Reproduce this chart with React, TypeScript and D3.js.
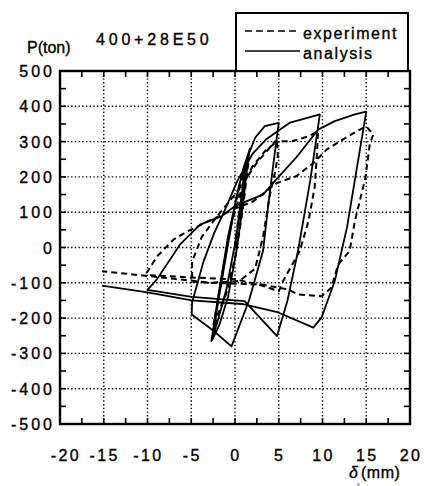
import React from "react";
import * as d3 from "d3";

// ---- data ----
const xTicks = [-20, -15, -10, -5, 0, 5, 10, 15, 20];
const yTicks = [-500, -400, -300, -200, -100, 0, 100, 200, 300, 400, 500];
const seriesNames = ["experiment", "analysis"];

const expX = [0, 0.5, 1.0, 1.5, 0.8, 0.0, -0.9, -1.8, -2.4, -1.6, -0.8, 0.2, 1.0, 1.6, 0.9, 0.1, -1.0, -2.0, -2.5, -1.5, -0.5, 0.8, 2.0, 3.5, 4.8, 4.9, 4.6, 4.0, 3.2, 2.3, 0.5, -2.7, -4.9, -4.9, -3.8, -2.0, 0.0, 2.5, 4.6, 6.5, 8.4, 9.5, 9.3, 9.1, 8.4, 7.4, 5.5, 5.0, 2.7, 0, -5, -9.9, -10.1, -8.9, -7, -5.5, -3, 0, 2.1, 4.8, 7, 9, 10.5, 12, 13.9, 15, 15.8, 15.4, 14.9, 13.7, 13.1, 11.8, 11, 9.9, 7.2, 6.1, 3, -2.7, -9.9, -15.2];
const expY = [0, 110, 200, 245, 100, -30, -120, -180, -215, -100, 20, 140, 210, 255, 110, -20, -130, -200, -225, -80, 60, 170, 230, 275, 300, 260, 216, 150, 30, -60, -95, -100, -97, -40, 30, 90, 150, 240, 301, 301, 315, 329, 240, 169, 75, -10, -95, -124, -105, -90, -85, -78, -72, -25, 23, 45, 75, 110, 131, 183, 202, 240, 278, 301, 329, 343, 320, 292, 197, 75, -10, -48, -114, -138, -133, -119, -105, -100, -81, -67];

const anaX = [0, 0.6, 1.2, 1.6, 0.9, 0.1, -0.8, -1.8, -2.6, -1.9, -1.0, 0.0, 0.9, 1.7, 0.9, 0.0, -1.0, -2.0, -2.7, -1.8, -0.8, 0.5, 1.5, 2.3, 3.4, 5.0, 4.4, 3.8, 3.2, 1.6, -0.4, -2.5, -4.95, -4.9, -3.6, -2.4, -1.3, 0.3, 2.0, 3.5, 4.9, 6.3, 9.7, 8.6, 7.2, 6.0, 4.8, 1.1, -4.95, -10, -8.95, -6.3, -4, -1.5, 0, 3.2, 4.8, 7, 9.5, 11.4, 13.7, 15, 12.8, 11.4, 9.9, 8.95, 4.95, 0.8, -4.95, -10, -15.2];
const anaY = [0, 120, 230, 270, 120, -20, -140, -220, -262, -150, -20, 120, 220, 280, 150, 10, -120, -210, -265, -120, 30, 180, 260, 311, 344, 353, 240, 120, -10, -150, -280, -235, -190, -155, -40, 40, 98, 190, 265, 305, 330, 354, 377, 190, -10, -150, -251, -152, -140, -120, -91, 8, 65, 89, 118, 150, 195, 255, 334, 358, 377, 385, 57, -95, -198, -227, -184, -160, -150, -127, -108];

const FONT = "'Liberation Sans', Arial, Helvetica, sans-serif";
const TS = { stroke: "#000", strokeWidth: 0.35 };

export default function App() {
  const left = 60, right = 410, top = 71, bottom = 424;
  const x = d3.scaleLinear().domain([-20, 20]).range([left, right]);
  const y = d3.scaleLinear().domain([-500, 500]).range([bottom, top]);

  const line = d3
    .line<[number, number]>()
    .x((d) => x(d[0]))
    .y((d) => y(d[1]));

  const expPts: [number, number][] = expX.map((v, i) => [v, expY[i]]);
  const anaPts: [number, number][] = anaX.map((v, i) => [v, anaY[i]]);

  const xMinor = d3.range(-20, 20.01, 2.5);
  const yMinor = d3.range(-500, 500.01, 50);

  return (
    <svg
      width={427}
      height={486}
      style={{ position: "absolute", left: 0, top: 0, background: "#fff" }}
      fontFamily={FONT}
    >
      {/* grid */}
      {xTicks.slice(1, -1).map((t) => (
        <line key={"gx" + t} x1={x(t)} x2={x(t)} y1={top} y2={bottom}
          stroke="#000" strokeWidth={1.4} strokeDasharray="1.4 2.3" />
      ))}
      {yTicks.slice(1, -1).map((t) => (
        <line key={"gy" + t} x1={left} x2={right} y1={y(t)} y2={y(t)}
          stroke="#000" strokeWidth={1.4} strokeDasharray="1.4 2.3" />
      ))}
      {/* minor ticks */}
      {xMinor.map((t) => (
        <g key={"tx" + t}>
          <line x1={x(t)} x2={x(t)} y1={bottom} y2={bottom - 6} stroke="#000" strokeWidth={1.6} />
          <line x1={x(t)} x2={x(t)} y1={top} y2={top + 6} stroke="#000" strokeWidth={1.6} />
        </g>
      ))}
      {yMinor.map((t) => (
        <g key={"ty" + t}>
          <line x1={left} x2={left + 6} y1={y(t)} y2={y(t)} stroke="#000" strokeWidth={1.6} />
          <line x1={right} x2={right - 6} y1={y(t)} y2={y(t)} stroke="#000" strokeWidth={1.6} />
        </g>
      ))}
      {/* curves */}
      <path d={line(expPts) || ""} fill="none" stroke="#000" strokeWidth={2}
        strokeDasharray="6 4" strokeLinejoin="round" />
      <path d={line(anaPts) || ""} fill="none" stroke="#000" strokeWidth={1.8}
        strokeLinejoin="round" />
      {/* frame */}
      <rect x={left} y={top} width={right - left} height={bottom - top}
        fill="none" stroke="#000" strokeWidth={2.4} />
      {/* y tick labels */}
      {yTicks.map((t) => (
        <text key={"ly" + t} x={55} y={y(t) + 6} textAnchor="end" fontSize={16}
          letterSpacing={3} {...TS}>{t}</text>
      ))}
      {/* x tick labels */}
      {xTicks.map((t) => (
        <text key={"lx" + t} x={x(t) + (t === -20 ? 6 : t < 0 ? 1 : 1)} y={461} textAnchor="middle" fontSize={16}
          letterSpacing={2.4} {...TS}>{t < 0 ? "-" + Math.abs(t) : String(t)}</text>
      ))}
      {/* axis titles */}
      <text x={27} y={53} fontSize={16} {...TS}>P(ton)</text>
      <text x={96} y={45} fontSize={16} letterSpacing={3.8} {...TS}>400+28E50</text>
      <text x={349} y={478} fontSize={16} fontStyle="italic" {...TS}>δ</text>
      <text x={357} y={486} fontSize={5}>y</text>
      <text x={361} y={478} fontSize={16} letterSpacing={0.5} {...TS}>(mm)</text>
      {/* legend */}
      <rect x={236} y={13} width={172} height={58} fill="#fff" stroke="#000" strokeWidth={2} />
      <line x1={245} x2={299} y1={31} y2={31} stroke="#000" strokeWidth={1.6} strokeDasharray="7 4" />
      <line x1={245} x2={300} y1={51} y2={51} stroke="#000" strokeWidth={1.6} />
      <text x={303} y={39} fontSize={16} letterSpacing={1.6} {...TS}>{seriesNames[0]}</text>
      <text x={303} y={59} fontSize={16} letterSpacing={1.6} {...TS}>{seriesNames[1]}</text>
    </svg>
  );
}
